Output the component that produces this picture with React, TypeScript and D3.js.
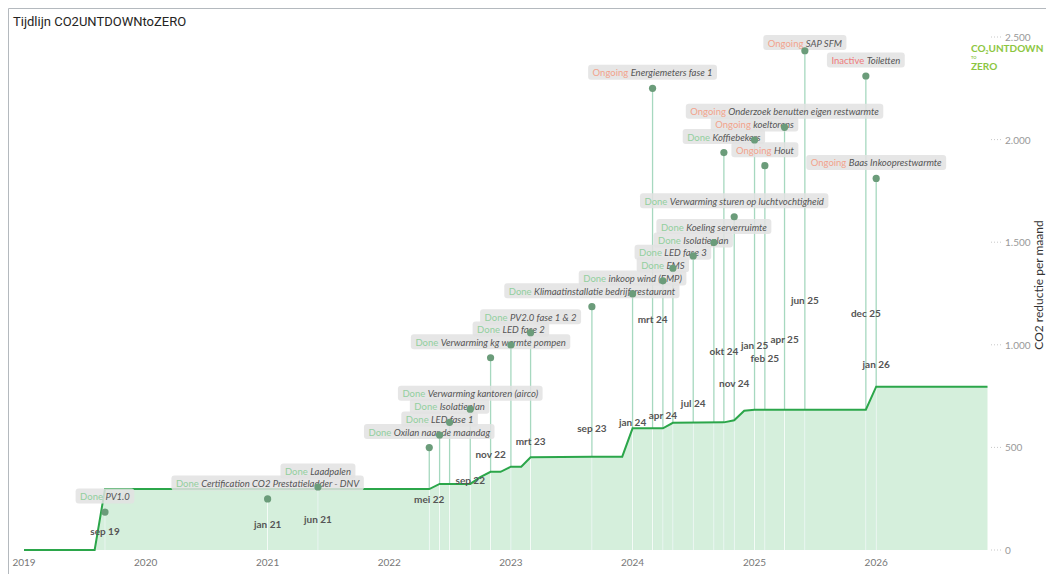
import { useEffect, useRef } from 'react'
import * as d3 from 'd3'

const W = 1046
const H = 574

// cumulative CO2 reduction per month (vertices of the green line)
const seriesMonths = ['2019-01', '2019-08', '2019-09', '2022-05', '2022-06', '2022-09', '2022-10', '2022-11', '2022-12', '2023-01', '2023-02', '2023-03', '2023-09', '2023-12', '2024-01', '2024-04', '2024-05', '2024-10', '2024-11', '2024-12', '2025-01', '2025-12', '2026-01', '2026-12']
const seriesValues = [0, 0, 297, 297, 322, 322, 355, 381, 381, 406, 406, 452, 455, 455, 593, 593, 620, 622, 632, 679, 684, 684, 796, 796]

// projects (lollipops)
const projectMonths = ['2019-09', '2021-01', '2021-06', '2022-05', '2022-06', '2022-07', '2022-09', '2022-11', '2023-01', '2023-03', '2023-09', '2024-01', '2024-03', '2024-04', '2024-05', '2024-07', '2024-09', '2024-10', '2024-11', '2025-01', '2025-02', '2025-04', '2025-06', '2025-12', '2026-01']
const projectStatus = ['Done', 'Done', 'Done', 'Done', 'Done', 'Done', 'Done', 'Done', 'Done', 'Done', 'Done', 'Done', 'Ongoing', 'Done', 'Done', 'Done', 'Done', 'Done', 'Done', 'Ongoing', 'Ongoing', 'Ongoing', 'Ongoing', 'Inactive', 'Ongoing']
const projectNames = ['PV1.0', 'Certification CO2 Prestatieladder - DNV', 'Laadpalen', 'Oxilan naar de maandag', 'LED fase 1', 'Isolatieplan', 'Verwarming kantoren (airco)', 'Verwarming kg warmte pompen', 'LED fase 2', 'PV2.0 fase 1 & 2', 'Klimaatinstallatie bedrijfsrestaurant', 'inkoop wind (EMP)', 'Energiemeters fase 1', 'EMS', 'LED fase 3', 'Isolatieplan', 'Koeling serverruimte', 'Koffiebekers', 'Verwarming sturen op luchtvochtigheid', 'koeltorens', 'Hout', 'Onderzoek benutten eigen restwarmte', 'SAP SFM', 'Toiletten', 'Baas Inkooprestwarmte']
const projectValues = [185, 249, 307, 499, 560, 622, 686, 937, 999, 1059, 1186, 1248, 2250, 1312, 1373, 1433, 1498, 1937, 1624, 1998, 1873, 2060, 2433, 2310, 1811]
// month labels shown on the stems ('' = hidden by overlap)
const dateLabels = ['sep 19', 'jan 21', 'jun 21', 'mei 22', '', '', 'sep 22', 'nov 22', '', 'mrt 23', 'sep 23', 'jan 24', 'mrt 24', 'apr 24', '', 'jul 24', '', 'okt 24', 'nov 24', 'jan 25', 'feb 25', 'apr 25', 'jun 25', 'dec 25', 'jan 26']

const yTicks = [0, 500, 1000, 1500, 2000, 2500]

const statusColor: Record<string, string> = {
  Done: '#92cf9e',
  Ongoing: '#f2a38c',
  Inactive: '#ee7a7a',
}

const FONT = '"Segoe UI", Lato, sans-serif'

const parseMonth = (s: string) => {
  const [yy, mm] = s.split('-').map(Number)
  return new Date(Date.UTC(yy, mm - 1, 1))
}

export default function App() {
  const svgRef = useRef<SVGSVGElement>(null)

  useEffect(() => {
    if (!svgRef.current) return
    const svg = d3.select(svgRef.current)
    svg.selectAll('*').remove()

    const x = d3.scaleUtc()
      .domain([parseMonth('2019-01'), parseMonth('2026-12')])
      .range([24, 987.5])
    const y = d3.scaleLinear().domain([0, 2500]).range([550, 37])

    const series = seriesMonths.map((m, i) => ({ date: parseMonth(m), value: seriesValues[i] }))
    const projects = projectMonths.map((m, i) => ({
      date: parseMonth(m),
      status: projectStatus[i],
      name: projectNames[i],
      value: projectValues[i],
      label: dateLabels[i],
    }))

    // frame + title
    svg.append('rect')
      .attr('x', 0).attr('y', 0).attr('width', W).attr('height', H)
      .attr('fill', '#fff')
    svg.append('path')
      .attr('d', `M8.5,${H} V8.5 H${W}`)
      .attr('fill', 'none')
      .attr('stroke', '#b4b9be')
    svg.append('text')
      .attr('x', 13).attr('y', 21)
      .attr('dominant-baseline', 'central')
      .style('font', `13px Roboto, sans-serif`)
      .attr('fill', '#252423')
      .text('Tijdlijn CO2UNTDOWNtoZERO')

    // area + line
    const area = d3.area<{ date: Date; value: number }>()
      .x(d => x(d.date))
      .y0(y(0))
      .y1(d => y(d.value))
    const line = d3.line<{ date: Date; value: number }>()
      .x(d => x(d.date))
      .y(d => y(d.value))

    svg.append('defs').append('clipPath').attr('id', 'areaClip')
      .append('path').attr('d', area(series) as string)

    svg.append('path')
      .attr('d', area(series) as string)
      .attr('fill', '#d5efdc')

    // stems
    svg.append('g')
      .selectAll('line')
      .data(projects)
      .join('line')
      .attr('x1', d => x(d.date)).attr('x2', d => x(d.date))
      .attr('y1', y(0)).attr('y2', d => y(d.value))
      .attr('stroke', '#a6d8bf')
      .attr('stroke-width', 1.3)
    svg.append('g')
      .attr('clip-path', 'url(#areaClip)')
      .selectAll('line')
      .data(projects)
      .join('line')
      .attr('x1', d => x(d.date)).attr('x2', d => x(d.date))
      .attr('y1', y(0)).attr('y2', d => y(d.value))
      .attr('stroke', '#f4fbf6')
      .attr('stroke-width', 1.3)

    svg.append('path')
      .attr('d', line(series) as string)
      .attr('fill', 'none')
      .attr('stroke', '#2ba64a')
      .attr('stroke-width', 2)

    // month labels at stem midpoints
    svg.append('g')
      .selectAll('text')
      .data(projects.filter(d => d.label))
      .join('text')
      .attr('x', d => x(d.date))
      .attr('y', d => y(d.value / 2))
      .attr('text-anchor', 'middle')
      .attr('dominant-baseline', 'central')
      .style('font', `bold 10px ${FONT}`)
      .attr('fill', '#555')
      .text(d => d.label)

    // project labels
    const labels = svg.append('g')
    projects.forEach(d => {
      const cx = x(d.date)
      const cy = Math.max(y(d.value) - 16, 42.5)
      const g = labels.append('g')
      const rect = g.append('rect')
      const text = g.append('text')
        .attr('y', cy)
        .attr('dominant-baseline', 'central')
        .style('font', `9.5px ${FONT}`)
      text.append('tspan').attr('fill', statusColor[d.status]).text(d.status + ' ')
      text.append('tspan').attr('fill', '#555').style('font-style', 'italic').text(d.name)
      const w = (text.node() as SVGTextElement).getComputedTextLength()
      text.attr('x', cx - w / 2)
      rect
        .attr('x', cx - w / 2 - 4.5)
        .attr('y', cy - 7.5)
        .attr('width', w + 9)
        .attr('height', 15)
        .attr('rx', 3)
        .attr('fill', '#e2e2e2')
        .attr('fill-opacity', 0.85)
    })

    // dots
    svg.append('g')
      .selectAll('circle')
      .data(projects)
      .join('circle')
      .attr('cx', d => x(d.date))
      .attr('cy', d => y(d.value))
      .attr('r', 3.6)
      .attr('fill', '#6b9c7a')

    // x axis (years)
    svg.append('g')
      .selectAll('text')
      .data(x.ticks(d3.utcYear.every(1) as d3.TimeInterval))
      .join('text')
      .attr('x', d => x(d))
      .attr('y', 562)
      .attr('text-anchor', 'middle')
      .attr('dominant-baseline', 'central')
      .style('font', `10px ${FONT}`)
      .attr('fill', '#777')
      .text(d => d3.utcFormat('%Y')(d))

    // y axis (right)
    const fmt = d3.formatLocale({ decimal: ',', thousands: '.', grouping: [3], currency: ['', ''] }).format(',')
    const yAxis = svg.append('g')
    yAxis.selectAll('line')
      .data(yTicks)
      .join('line')
      .attr('x1', 991).attr('x2', 1001)
      .attr('y1', d => y(d)).attr('y2', d => y(d))
      .attr('stroke', '#c8c8c8')
      .attr('stroke-dasharray', '1,2')
    yAxis.selectAll('text')
      .data(yTicks)
      .join('text')
      .attr('x', 1005)
      .attr('y', d => y(d))
      .attr('dominant-baseline', 'central')
      .style('font', `10px ${FONT}`)
      .attr('fill', '#999')
      .text(d => fmt(d))

    svg.append('text')
      .attr('transform', `translate(1043,285) rotate(-90)`)
      .attr('text-anchor', 'middle')
      .style('font', `12px ${FONT}`)
      .attr('fill', '#333')
      .text('CO2 reductie per maand')

    // logo
    const logo = svg.append('g').attr('fill', '#8cc641').style('font', `bold 10px ${FONT}`)
    const l1 = logo.append('text').attr('x', 971).attr('y', 52)
    l1.append('tspan').text('CO')
    l1.append('tspan').attr('font-size', 5).attr('dy', 1.5).text('2')
    l1.append('tspan').attr('dy', -1.5).text('UNTDOWN')
    logo.append('text').attr('x', 971).attr('y', 59).style('font-size', '4px').text('TO')
    logo.append('text').attr('x', 971).attr('y', 70).text('ZERO')

    return () => {
      svg.selectAll('*').remove()
    }
  }, [])

  return (
    <svg
      ref={svgRef}
      width={W}
      height={H}
      style={{ position: 'absolute', left: 0, top: 0, display: 'block' }}
    />
  )
}
